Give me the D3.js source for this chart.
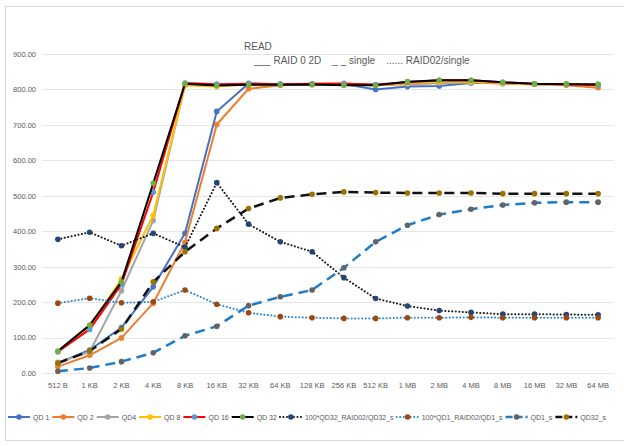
<!DOCTYPE html>
<html>
<head>
<meta charset="utf-8">
<script src="https://cdn.jsdelivr.net/npm/d3@7/dist/d3.min.js"></script>
<style>
  html, body { margin: 0; padding: 0; background: #fff; }
  svg { display: block; font-family: "Liberation Sans", Arial, sans-serif; }
</style>
</head>
<body>
<svg id="chart" width="624" height="446"></svg>
<script>
// Block sizes on the category axis
const categories = ["512 B","1 KB","2 KB","4 KB","8 KB","16 KB","32 KB","64 KB","128 KB","256 KB",
                    "512 KB","1 MB","2 MB","4 MB","8 MB","16 MB","32 MB","64 MB"];

// RAID 0 2D throughput per queue depth
const qd1  = [28, 65, 128, 243, 394, 738, 817, 815, 814, 815, 800, 808, 810, 818, 818, 815, 815, 812];
const qd2  = [18, 50, 99, 197, 369, 701, 802, 812, 816, 817, 812, 815, 818, 820, 816, 815, 812, 805];
const qd4  = [30, 60, 232, 430, 812, 812, 815, 813, 814, 815, 813, 816, 818, 820, 818, 815, 814, 812];
const qd8  = [60, 130, 265, 445, 812, 808, 815, 814, 815, 813, 812, 818, 822, 822, 818, 815, 814, 812];
const qd16 = [60, 123, 250, 510, 818, 815, 816, 815, 816, 816, 814, 820, 826, 826, 820, 816, 815, 812];
const qd32 = [62, 135, 257, 535, 816, 811, 813, 813, 814, 812, 812, 822, 826, 826, 820, 816, 815, 815];

// Ratios RAID02 / single (x100)
const ratioQd32 = [377, 397, 359, 394, 355, 537, 420, 370, 342, 269, 210, 189, 176, 171, 166, 166, 165, 164];
const ratioQd1  = [197, 211, 198, 201, 234, 194, 170, 159, 156, 154, 154, 156, 156, 157, 156, 156, 156, 156];

// Single-drive throughput
const qd1Single  = [5, 14, 32, 57, 105, 132, 190, 215, 234, 297, 370, 417, 447, 462, 474, 480, 482, 482];
const qd32Single = [28, 62, 124, 257, 342, 408, 464, 494, 504, 511, 509, 508, 508, 508, 506, 506, 506, 506];

const yTicks = [0, 100, 200, 300, 400, 500, 600, 700, 800, 900];

const series = [
  { name: "QD 1",  values: qd1,  stroke: "#4472C4", marker: "#4472C4", width: 2 },
  { name: "QD 2",  values: qd2,  stroke: "#ED7D31", marker: "#ED7D31", width: 2 },
  { name: "QD4",   values: qd4,  stroke: "#A5A5A5", marker: "#A5A5A5", width: 2 },
  { name: "QD 8",  values: qd8,  stroke: "#FFC000", marker: "#FFC000", width: 2 },
  { name: "QD 16", values: qd16, stroke: "#FF0000", marker: "#5B9BD5", width: 2 },
  { name: "QD 32", values: qd32, stroke: "#000000", marker: "#70AD47", width: 2 },
  { name: "100*QD32_RAID02/QD32_s", values: ratioQd32, stroke: "#1a1a1a", marker: "#264478", width: 2, dash: "0.1,3.4", cap: "round" },
  { name: "100*QD1_RAID02/QD1_s",   values: ratioQd1,  stroke: "#2E86D0", marker: "#9E480E", width: 2, dash: "0.1,3.4", cap: "round" },
  { name: "QD1_s",  values: qd1Single,  stroke: "#1F7CC8", marker: "#636363", width: 2.5, dash: "10,6" },
  { name: "QD32_s", values: qd32Single, stroke: "#111111", marker: "#997300", width: 2.5, dash: "10,6" }
];

const svg = d3.select("#chart");
const plot = { left: 42, right: 614, top: 54, bottom: 373 };
const textColor = "#595959";

// Chart frame
svg.append("rect")
  .attr("x", 5.5).attr("y", 6.5)
  .attr("width", 640).attr("height", 434)
  .attr("fill", "#fff").attr("stroke", "#d9d9d9").attr("stroke-width", 1);

const x = d3.scaleBand().domain(categories).range([plot.left, plot.right]).padding(0);
const cx = c => x(c) + x.bandwidth() / 2;
const y = d3.scaleLinear().domain([0, 900]).range([plot.bottom, plot.top]);

// Horizontal gridlines
svg.append("g")
  .selectAll("line").data(yTicks).join("line")
  .attr("x1", plot.left).attr("x2", plot.right)
  .attr("y1", d => Math.round(y(d)) + 0.5).attr("y2", d => Math.round(y(d)) + 0.5)
  .attr("stroke", "#e6e6e6").attr("stroke-width", 1);

// Y axis labels
const yAxis = d3.axisLeft(y).tickValues(yTicks).tickFormat(d3.format(".2f")).tickSize(0).tickPadding(6);
svg.append("g").attr("transform", `translate(${plot.left},0)`).call(yAxis)
  .call(g => g.select(".domain").remove())
  .selectAll("text").attr("fill", textColor).attr("font-size", "7.5px");

// X axis labels
const xAxis = d3.axisBottom(x).tickSize(0).tickPadding(10);
svg.append("g").attr("transform", `translate(0,${plot.bottom})`).call(xAxis)
  .call(g => g.select(".domain").remove())
  .selectAll("text").attr("fill", textColor).attr("font-size", "7.5px");

// Series lines and markers
const line = d3.line().x((d, i) => cx(categories[i])).y(d => y(d));
series.forEach(s => {
  const g = svg.append("g");
  g.append("path")
    .attr("d", line(s.values))
    .attr("fill", "none")
    .attr("stroke", s.stroke)
    .attr("stroke-width", s.width)
    .attr("stroke-dasharray", s.dash || null)
    .attr("stroke-linecap", s.cap || "butt")
    .attr("stroke-linejoin", "round");
  g.selectAll("circle").data(s.values).join("circle")
    .attr("cx", (d, i) => cx(categories[i]))
    .attr("cy", d => y(d))
    .attr("r", 2.8)
    .attr("fill", s.marker);
});

// Title block
svg.append("text").attr("x", 244).attr("y", 50)
  .attr("fill", textColor).attr("font-size", "10px").text("READ");
svg.append("text").attr("x", 254).attr("y", 64)
  .attr("fill", textColor).attr("font-size", "10px")
  .style("white-space", "pre")
  .text("___ RAID 0 2D    _ _ single    ...... RAID02/single");

// Legend
const legend = svg.append("g").attr("font-size", "7px");
const swatch = 22;
let lx = 8;
const ly = 417;
series.forEach(s => {
  const item = legend.append("g");
  item.append("line")
    .attr("x1", lx).attr("x2", lx + swatch).attr("y1", ly).attr("y2", ly)
    .attr("stroke", s.stroke).attr("stroke-width", s.width)
    .attr("stroke-dasharray", s.dash ? (s.cap ? "0.1,3.4" : "7,3") : null)
    .attr("stroke-linecap", s.cap || "butt");
  item.append("circle").attr("cx", lx + swatch / 2).attr("cy", ly).attr("r", 2.8).attr("fill", s.marker);
  const t = item.append("text").attr("x", lx + swatch + 3).attr("y", ly + 2.5)
    .attr("fill", textColor).text(s.name);
  lx += swatch + 3 + t.node().getComputedTextLength() + 3;
});
</script>
</body>
</html>
